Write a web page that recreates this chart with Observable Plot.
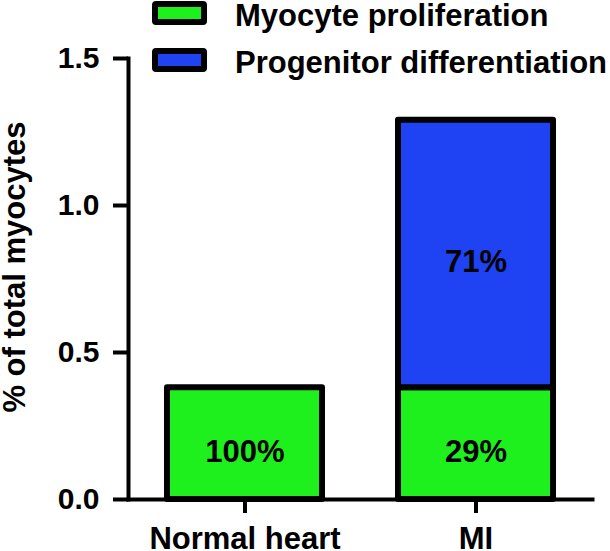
<!DOCTYPE html>
<html>
<head>
<meta charset="utf-8">
<script src="https://cdn.jsdelivr.net/npm/d3@7"></script>
<script src="https://cdn.jsdelivr.net/npm/@observablehq/plot@0.6"></script>
<style>
  html, body { margin: 0; padding: 0; background: #fff; overflow: hidden; }
  #wrap { position: relative; width: 610px; height: 551px; font-family: "Liberation Sans", Arial, sans-serif; }
  #legend { position: absolute; left: 0; top: 0; }
  .item { position: absolute; left: 152px; height: 24px; }
  .sw { position: absolute; left: 0; top: 0; width: 55px; height: 24px; box-sizing: border-box; border: 6px solid #000; border-radius: 4px; }
  .lab { position: absolute; left: 83px; top: -3px; font-size: 31px; font-weight: bold; line-height: 36px; white-space: nowrap; color: #000; }
</style>
</head>
<body>
<div id="wrap"><div id="chart"></div><div id="legend"></div></div>
<script>
const categories = ["Normal heart", "MI"];
const seriesNames = ["Myocyte proliferation", "Progenitor differentiation"];
const seriesColors = ["#1ef01e", "#1f42f2"];
const myocyteValues = [0.38, 0.38];
const progenitorValues = [0, 0.91];
const myocyteLabels = ["100%", "29%"];
const progenitorLabels = ["", "71%"];
const yTicks = [0, 0.5, 1.0, 1.5];
const yTitle = "% of total myocytes";

const rows = [];
categories.forEach((c, i) => {
  rows.push({group: c, series: seriesNames[0], value: myocyteValues[i], label: myocyteLabels[i]});
  rows.push({group: c, series: seriesNames[1], value: progenitorValues[i], label: progenitorLabels[i]});
});
const data = rows.filter(d => d.value > 0);

const chart = Plot.plot({
  width: 610,
  height: 551,
  marginLeft: 128,
  marginRight: 18,
  marginTop: 58,
  marginBottom: 52,
  style: {fontFamily: "'Liberation Sans', Arial, sans-serif", background: "white", color: "black"},
  x: {domain: categories, paddingInner: 0.33, paddingOuter: 0.167, axis: null},
  y: {domain: [0, 1.5], axis: null},
  color: {domain: seriesNames, range: seriesColors},
  marks: [
    Plot.barY(data, Plot.stackY({
      x: "group", y: "value", z: "series", fill: "series",
      stroke: "black", strokeWidth: 6, strokeLinejoin: "round", order: seriesNames
    })),
    Plot.text(data, Plot.stackY({
      x: "group", y: "value", z: "series", text: "label", order: seriesNames,
      fontSize: 31, fontWeight: "bold", fill: "black", dy: 8
    })),
    Plot.frame({anchor: "left", strokeWidth: 4}),
    Plot.frame({anchor: "bottom", strokeWidth: 4}),
    Plot.axisY({ticks: yTicks, tickSize: 15, tickPadding: 14, fontSize: 30, fontWeight: "bold",
      strokeWidth: 4, tickFormat: d3.format(".1f"), label: null}),
    Plot.axisX({tickSize: 14, tickPadding: 13, fontSize: 31, fontWeight: "bold",
      strokeWidth: 4, label: null}),
    Plot.text([yTitle], {frameAnchor: "left", textAnchor: "middle", rotate: -90, dx: -113, dy: -12,
      fontSize: 31, fontWeight: "bold", fill: "black"})
  ]
});
document.getElementById("chart").appendChild(chart);

const legend = document.getElementById("legend");
const legendTops = [1, 48];
seriesNames.forEach((name, i) => {
  const item = document.createElement("div");
  item.className = "item";
  item.style.top = legendTops[i] + "px";
  const sw = document.createElement("div");
  sw.className = "sw";
  sw.style.background = seriesColors[i];
  const lab = document.createElement("div");
  lab.className = "lab";
  lab.textContent = name;
  item.appendChild(sw);
  item.appendChild(lab);
  legend.appendChild(item);
});
</script>
</body>
</html>
